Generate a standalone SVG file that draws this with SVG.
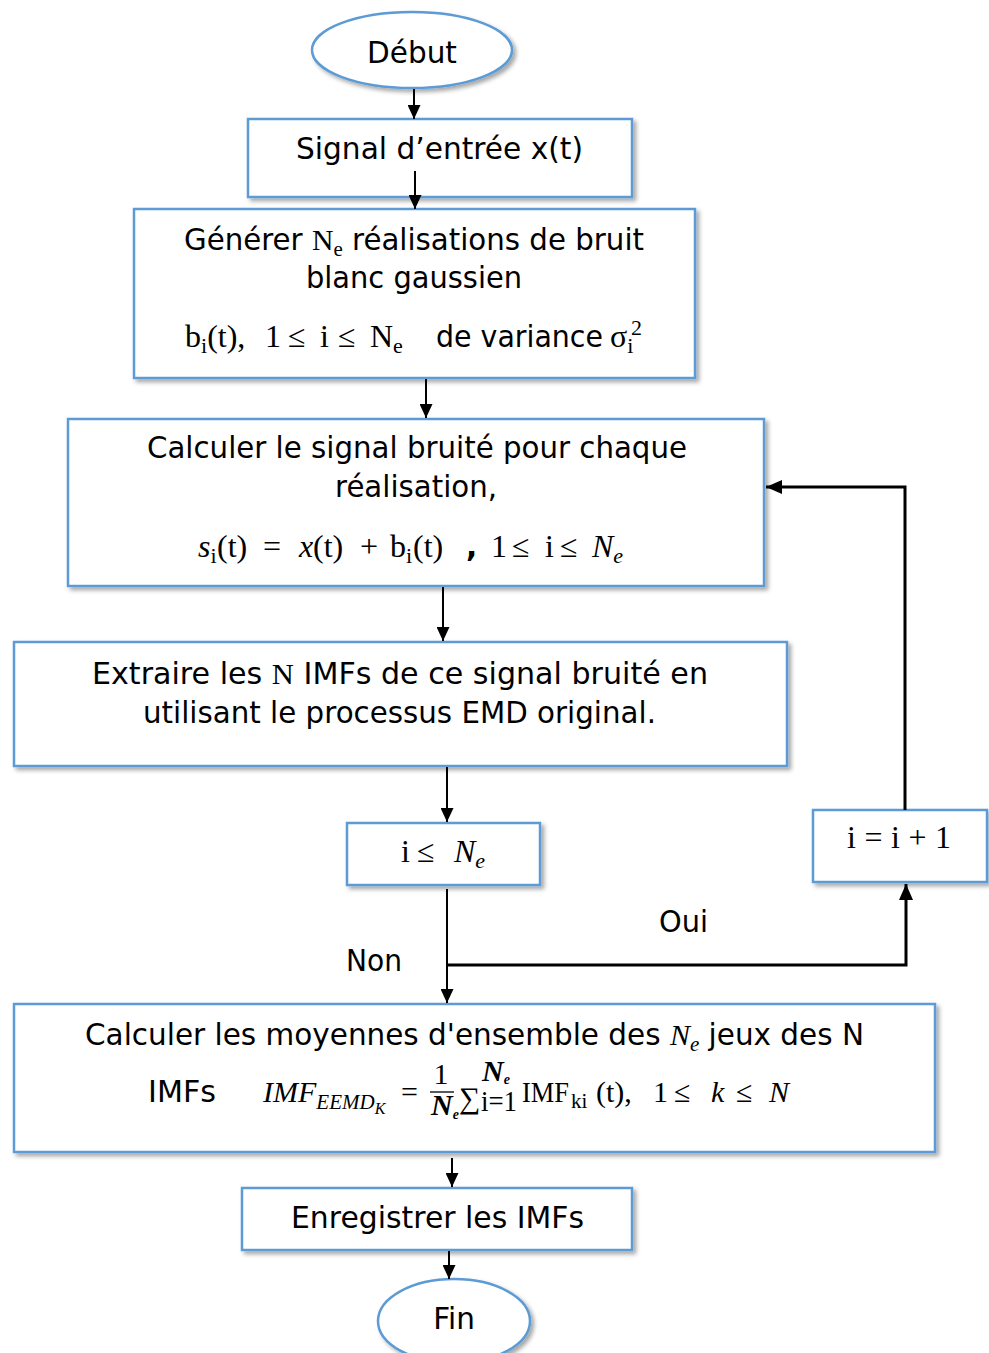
<svg xmlns="http://www.w3.org/2000/svg" width="989" height="1353" viewBox="0 0 989 1353">
<defs>
<filter id="sh" x="-5%" y="-10%" width="115%" height="130%">
<feDropShadow dx="3" dy="3" stdDeviation="2" flood-color="#000" flood-opacity="0.35"/>
</filter>
<marker id="ah" viewBox="0 0 14 13" refX="14" refY="6.5" markerWidth="14" markerHeight="13" markerUnits="userSpaceOnUse" orient="auto">
<path d="M0,0 L14,6.5 L0,13 z" fill="#000"/>
</marker>
<marker id="ah2" viewBox="0 0 16 14" refX="16" refY="7" markerWidth="16" markerHeight="14" markerUnits="userSpaceOnUse" orient="auto">
<path d="M0,0 L16,7 L0,14 z" fill="#000"/>
</marker>
</defs>
<style>
.box{fill:#fff;stroke:#5b9bd5;stroke-width:2.5;filter:url(#sh)}
.t{font-family:"DejaVu Sans",Verdana,sans-serif;font-size:29.5px;fill:#000}
.m{font-family:"Liberation Serif","Times New Roman",serif;font-size:30px;fill:#000}
.b{font-size:32px}
.s{font-size:21px}
.s2{font-size:22px}
.i{font-style:italic}
.c{stroke:#000;stroke-width:2;fill:none}
.c3{stroke:#000;stroke-width:3;fill:none}
</style>
<rect width="989" height="1353" fill="#fff"/>

<g id="debut">
<ellipse class="box" cx="412" cy="50" rx="100" ry="38"/>
<text class="t" x="412" y="63" text-anchor="middle">Début</text>
</g>

<g id="signal">
<rect class="box" x="248" y="119" width="384" height="78"/>
<text class="t" x="296" y="159" textLength="287" lengthAdjust="spacingAndGlyphs">Signal d’entrée x(t)</text>
</g>

<g id="generer">
<rect class="box" x="134" y="209" width="561" height="169"/>
<text class="t" x="184" y="250" textLength="460" lengthAdjust="spacingAndGlyphs">Générer <tspan class="m">N<tspan class="s" dy="6">e</tspan></tspan><tspan dy="-6"> réalisations de bruit</tspan></text>
<text class="t" x="306" y="288" textLength="216" lengthAdjust="spacingAndGlyphs">blanc gaussien</text>
<text class="m b" y="347"><tspan x="185">b</tspan><tspan class="s2" dy="6">i</tspan><tspan dy="-6">(t),</tspan><tspan x="265">1</tspan><tspan x="288">≤</tspan><tspan x="320">i</tspan><tspan x="338">≤</tspan><tspan x="370">N</tspan><tspan class="s2" dy="6">e</tspan></text>
<text class="t" x="436" y="347" textLength="167" lengthAdjust="spacingAndGlyphs">de variance</text>
<text class="m b" x="610" y="347">σ<tspan class="s2" dy="6">i</tspan></text>
<text class="m s2" x="631" y="335">2</text>
</g>

<g id="calculer">
<rect class="box" x="68" y="419" width="696" height="167"/>
<text class="t" x="147" y="458" textLength="540" lengthAdjust="spacingAndGlyphs">Calculer le signal bruité pour chaque</text>
<text class="t" x="335" y="497" textLength="162" lengthAdjust="spacingAndGlyphs">réalisation,</text>
<text class="m b" y="557"><tspan class="i" x="198">s</tspan><tspan class="s2" dy="6">i</tspan><tspan dy="-6" x="217">(t)</tspan><tspan x="263">=</tspan><tspan class="i" x="299">x</tspan><tspan x="313">(t)</tspan><tspan x="360">+</tspan><tspan x="390">b</tspan><tspan class="s2" dy="6">i</tspan><tspan dy="-6" x="413">(t)</tspan></text>
<text class="t" x="466" y="557" font-weight="bold">,</text>
<text class="m b" y="557"><tspan x="491">1</tspan><tspan x="512">≤</tspan><tspan x="545">i</tspan><tspan x="560">≤</tspan><tspan class="i" x="592">N</tspan><tspan class="i s2" dy="6">e</tspan></text>
</g>

<g id="extraire">
<rect class="box" x="14" y="642" width="773" height="124"/>
<text class="t" x="92" y="684" textLength="616" lengthAdjust="spacingAndGlyphs">Extraire les <tspan class="m">N</tspan> IMFs  de ce signal bruité en</text>
<text class="t" x="143" y="723" textLength="513" lengthAdjust="spacingAndGlyphs">utilisant le processus EMD original.</text>
</g>

<g id="test">
<rect class="box" x="347" y="823" width="193" height="62"/>
<text class="m b" y="862"><tspan x="401">i</tspan><tspan x="417">≤</tspan><tspan class="i" x="454">N</tspan><tspan class="i s2" dy="6">e</tspan></text>
</g>

<g id="incr">
<rect class="box" x="813" y="810" width="174" height="72"/>
<text class="m b" x="847" y="848" textLength="104" lengthAdjust="spacing">i = i + 1</text>
</g>

<g id="moyennes">
<rect class="box" x="14" y="1004" width="921" height="148"/>
<text class="t" x="85" y="1045" textLength="779" lengthAdjust="spacingAndGlyphs">Calculer les moyennes d'ensemble des <tspan class="m i">N<tspan class="s" dy="6">e</tspan></tspan><tspan dy="-6"> jeux des N</tspan></text>
<text class="t" x="148" y="1102" textLength="68" lengthAdjust="spacingAndGlyphs">IMFs</text>
<text class="m i" x="263" y="1102">IMF<tspan class="s" dy="7">EEMD</tspan><tspan dy="5" font-size="16">K</tspan></text>
<text class="m" x="401" y="1102">=</text>
<text class="m" x="441" y="1084" font-size="19" text-anchor="middle">1</text>
<line x1="430" y1="1092" x2="454" y2="1092" stroke="#000" stroke-width="1.3"/>
<text class="m i" x="431" y="1115" font-size="20" font-weight="bold">N<tspan dy="4" font-size="14">e</tspan></text>
<text class="m" x="459" y="1108" font-size="29">∑</text>
<text class="m i" x="482" y="1081" font-size="20" font-weight="bold">N<tspan dy="3" font-size="14">e</tspan></text>
<text class="m" x="481" y="1111" font-size="19" textLength="36" lengthAdjust="spacingAndGlyphs">i=1</text>
<text class="m" x="522" y="1102" textLength="47" lengthAdjust="spacingAndGlyphs">IMF</text>
<text class="m s" x="571" y="1108">ki</text>
<text class="m" y="1102"><tspan x="596">(t),</tspan><tspan x="653">1</tspan><tspan x="674">≤</tspan><tspan class="i" x="711">k</tspan><tspan x="736">≤</tspan><tspan class="i" x="769">N</tspan></text>
</g>

<g id="enregistrer">
<rect class="box" x="242" y="1188" width="390" height="62"/>
<text class="t" x="291" y="1228" textLength="293" lengthAdjust="spacingAndGlyphs">Enregistrer les IMFs</text>
</g>

<g id="fin">
<ellipse class="box" cx="454" cy="1321" rx="76" ry="42"/>
<text class="t" x="454" y="1329" text-anchor="middle">Fin</text>
</g>

<g id="labels">
<text class="t" x="346" y="971" textLength="56" lengthAdjust="spacingAndGlyphs">Non</text>
<text class="t" x="659" y="932" textLength="49" lengthAdjust="spacingAndGlyphs">Oui</text>
</g>

<g id="connectors">
<line class="c" x1="414" y1="89" x2="414" y2="119" marker-end="url(#ah)"/>
<line class="c" x1="415" y1="171" x2="415" y2="209" marker-end="url(#ah)"/>
<line class="c" x1="426" y1="379" x2="426" y2="418" marker-end="url(#ah)"/>
<line class="c" x1="443" y1="587" x2="443" y2="641" marker-end="url(#ah)"/>
<line class="c" x1="447" y1="767" x2="447" y2="822" marker-end="url(#ah)"/>
<line class="c" x1="447" y1="889" x2="447" y2="1003" marker-end="url(#ah)"/>
<polyline class="c3" points="447,965 906,965 906,884" marker-end="url(#ah2)"/>
<polyline class="c3" points="905,810 905,487 766,487" marker-end="url(#ah2)"/>
<line class="c" x1="452" y1="1158" x2="452" y2="1187" marker-end="url(#ah)"/>
<line class="c" x1="449" y1="1251" x2="449" y2="1279" marker-end="url(#ah)"/>
</g>
</svg>
